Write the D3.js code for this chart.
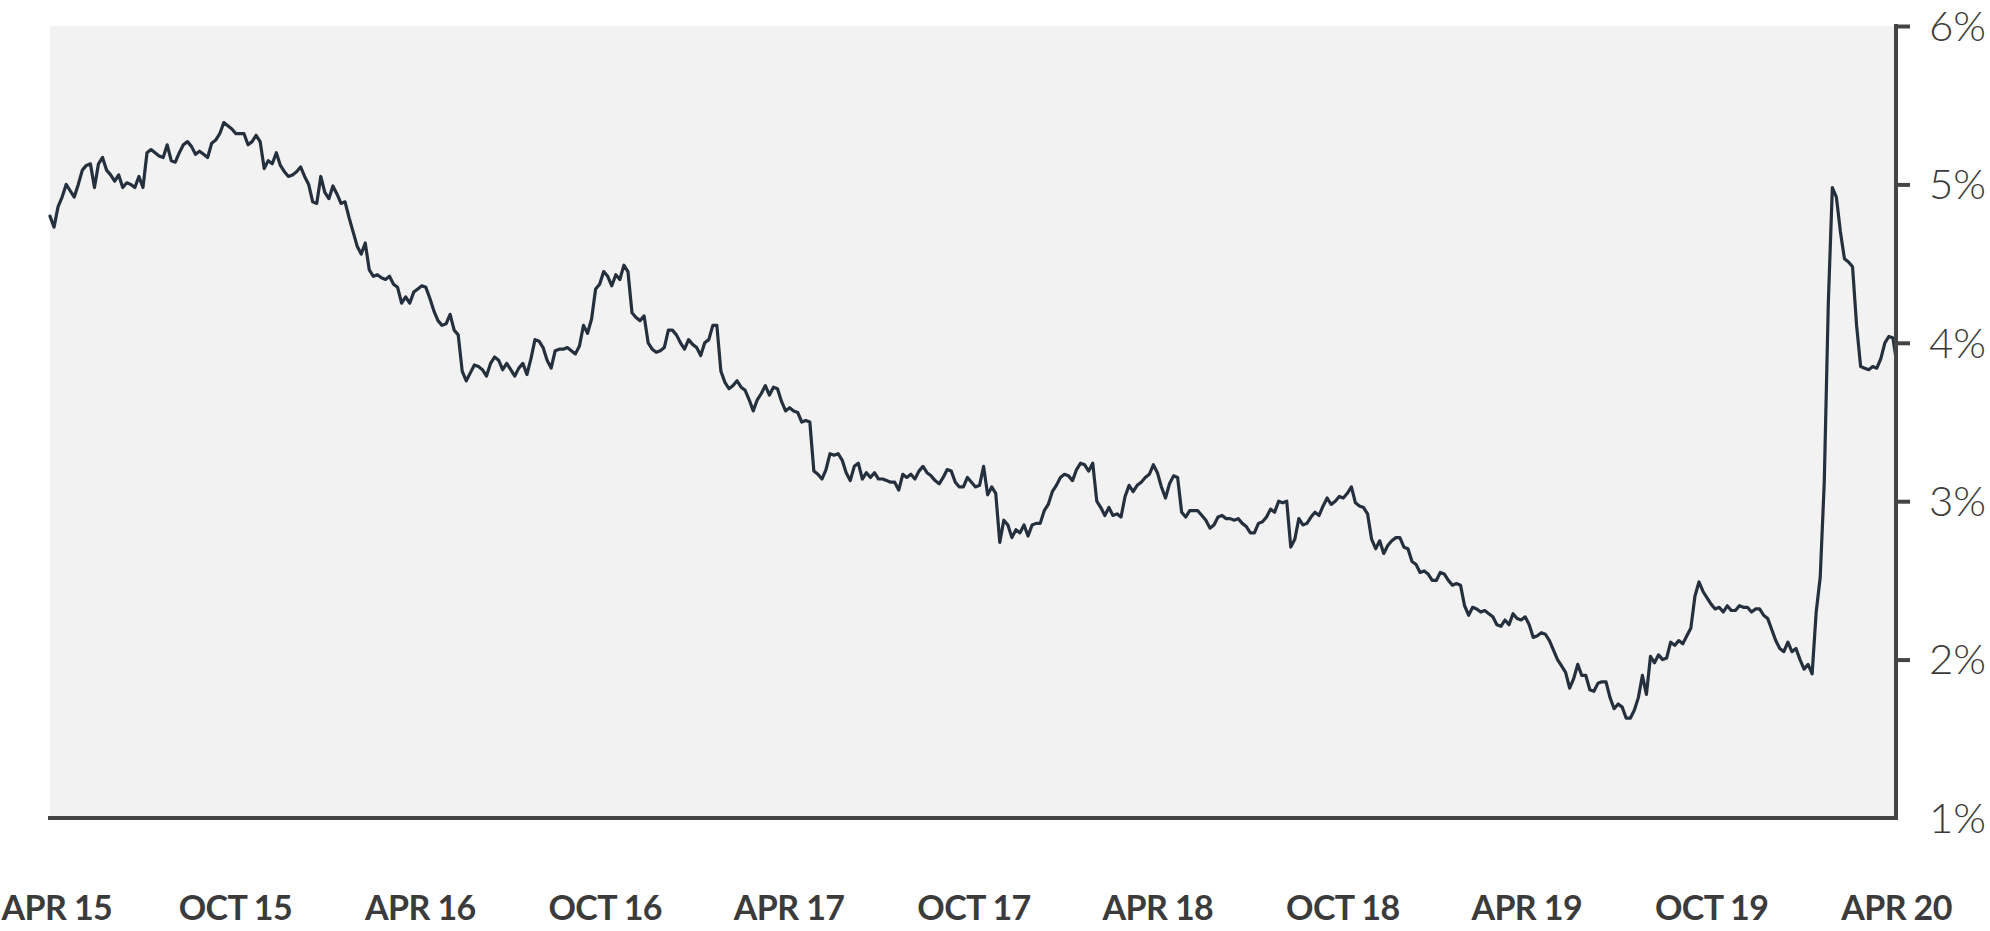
<!DOCTYPE html>
<html><head><meta charset="utf-8">
<script src="https://cdn.jsdelivr.net/npm/d3@7"></script>
<style>html,body{margin:0;padding:0;background:#fff;} svg{display:block;}</style>
</head><body>
<svg id="chart" width="1990" height="931"></svg>
<script>
// ---- data ----
const startDate = "2015-04-01";
const stepDays = 4;
const yieldValues = [
4.80,4.73,4.86,4.92,5.00,4.96,4.92,5.00,5.09,5.12,
5.13,4.98,5.13,5.17,5.09,5.06,5.02,5.06,4.98,5.01,
5.00,4.98,5.05,4.98,5.20,5.22,5.20,5.18,5.17,5.25,
5.15,5.14,5.20,5.25,5.27,5.24,5.19,5.21,5.19,5.17,
5.26,5.28,5.32,5.39,5.37,5.35,5.32,5.32,5.32,5.25,
5.27,5.31,5.27,5.10,5.15,5.13,5.20,5.12,5.08,5.05,
5.06,5.08,5.11,5.05,5.00,4.89,4.88,5.05,4.95,4.91,
4.99,4.94,4.88,4.89,4.79,4.70,4.61,4.56,4.63,4.46,
4.42,4.43,4.41,4.40,4.42,4.37,4.35,4.25,4.29,4.25,
4.32,4.34,4.36,4.35,4.28,4.20,4.14,4.11,4.12,4.18,
4.08,4.05,3.82,3.76,3.81,3.86,3.85,3.83,3.79,3.87,
3.91,3.89,3.83,3.87,3.83,3.79,3.84,3.87,3.80,3.90,
4.02,4.01,3.97,3.89,3.84,3.95,3.96,3.96,3.97,3.95,
3.93,3.98,4.11,4.06,4.15,4.34,4.37,4.45,4.42,4.36,
4.43,4.40,4.49,4.45,4.19,4.16,4.14,4.17,4.00,3.96,
3.94,3.95,3.97,4.08,4.08,4.05,4.00,3.96,4.02,3.99,
3.97,3.92,4.00,4.02,4.11,4.11,3.82,3.75,3.71,3.73,
3.76,3.72,3.70,3.64,3.57,3.64,3.68,3.73,3.67,3.72,
3.71,3.63,3.57,3.59,3.57,3.56,3.50,3.51,3.50,3.19,
3.17,3.14,3.20,3.30,3.29,3.30,3.26,3.18,3.13,3.22,
3.24,3.14,3.18,3.15,3.18,3.14,3.14,3.13,3.12,3.12,
3.07,3.17,3.15,3.17,3.14,3.19,3.22,3.18,3.16,3.13,
3.11,3.15,3.20,3.19,3.12,3.09,3.09,3.15,3.12,3.09,
3.10,3.22,3.04,3.09,3.05,2.74,2.88,2.85,2.77,2.82,
2.80,2.85,2.78,2.85,2.86,2.86,2.94,2.98,3.06,3.10,
3.15,3.17,3.16,3.13,3.20,3.24,3.23,3.19,3.24,3.00,
2.96,2.91,2.96,2.91,2.92,2.90,3.03,3.10,3.06,3.10,
3.12,3.15,3.17,3.23,3.18,3.09,3.02,3.11,3.16,3.15,
2.93,2.90,2.94,2.94,2.94,2.91,2.88,2.83,2.85,2.90,
2.91,2.89,2.89,2.88,2.89,2.86,2.84,2.80,2.80,2.86,
2.87,2.90,2.95,2.93,3.00,2.99,3.00,2.71,2.76,2.89,
2.85,2.86,2.90,2.93,2.91,2.97,3.02,2.98,3.00,3.03,
3.02,3.05,3.09,2.99,2.97,2.96,2.92,2.76,2.70,2.75,
2.67,2.72,2.75,2.77,2.77,2.71,2.70,2.62,2.60,2.55,
2.56,2.54,2.50,2.50,2.55,2.54,2.50,2.47,2.48,2.47,
2.34,2.28,2.33,2.32,2.30,2.31,2.29,2.27,2.22,2.21,
2.25,2.22,2.29,2.26,2.25,2.27,2.22,2.14,2.15,2.17,
2.16,2.12,2.06,2.00,1.96,1.92,1.82,1.88,1.97,1.90,
1.90,1.81,1.80,1.85,1.86,1.86,1.76,1.69,1.72,1.70,
1.63,1.63,1.68,1.76,1.90,1.78,2.02,1.98,2.03,2.00,
2.01,2.11,2.09,2.12,2.10,2.15,2.20,2.40,2.49,2.43,
2.39,2.35,2.32,2.33,2.30,2.34,2.31,2.31,2.34,2.33,
2.33,2.30,2.32,2.32,2.28,2.26,2.19,2.12,2.07,2.05,
2.11,2.05,2.07,2.00,1.94,1.97,1.91,2.30,2.52,3.12,
4.25,4.98,4.92,4.70,4.53,4.51,4.48,4.11,3.85,3.84,
3.83,3.85,3.84,3.90,4.00,4.04,4.03,3.86
];
const yTickValues = [1, 2, 3, 4, 5, 6];
const xTickDates = ["2015-04-01","2015-10-01","2016-04-01","2016-10-01","2017-04-01","2017-10-01","2018-04-01","2018-10-01","2019-04-01","2019-10-01","2020-04-01"];
const xTickLabels = ["APR 15","OCT 15","APR 16","OCT 16","APR 17","OCT 17","APR 18","OCT 18","APR 19","OCT 19","APR 20"];

// ---- drawing ----
(function () {
const parse = d3.utcParse("%Y-%m-%d");
const start = parse(startDate);
const series = yieldValues.map((v, i) => ({ date: d3.utcDay.offset(start, i * stepDays), value: v }));
const tickDates = xTickDates.map(parse);

const pLeft = 50, pRight = 1896, pTop = 26, pBottom = 818;
const x = d3.scaleUtc().domain([tickDates[0], tickDates[tickDates.length - 1]]).range([pLeft, pRight]);
const y = d3.scaleLinear().domain([1, 6]).range([pBottom, pTop]);

const svg = d3.select("#chart");
const textColor = "#3b3b3b";
const axisColor = "#444444";

svg.append("rect")
  .attr("x", pLeft).attr("y", pTop)
  .attr("width", pRight - pLeft).attr("height", pBottom - pTop)
  .attr("fill", "#f2f2f2");

svg.append("defs").append("clipPath").attr("id", "plotclip")
  .append("rect").attr("x", pLeft - 2).attr("y", 0).attr("width", pRight - pLeft + 2).attr("height", 931);

svg.append("path")
  .datum(series)
  .attr("clip-path", "url(#plotclip)")
  .attr("fill", "none")
  .attr("stroke", "#25303f")
  .attr("stroke-width", 3.2)
  .attr("stroke-linejoin", "round")
  .attr("stroke-linecap", "round")
  .attr("d", d3.line().x(d => x(d.date)).y(d => y(d.value)));

// bottom axis
const xAxis = svg.append("g")
  .attr("transform", `translate(0,${pBottom})`)
  .call(d3.axisBottom(x)
    .tickValues(tickDates)
    .tickSize(0)
    .tickSizeOuter(0)
    .tickPadding(78)
    .tickFormat((d, i) => xTickLabels[i]));
xAxis.select(".domain").attr("stroke", axisColor).attr("stroke-width", 4)
  .attr("d", `M${pLeft - 2},0H${pRight}`);
xAxis.selectAll("text")
  .attr("fill", textColor)
  .style("font-family", "Lato, 'Open Sans', sans-serif")
  .style("font-weight", 700)
  .style("font-size", "34px")
  .style("letter-spacing", "-0.6px");
// keep the first label inside the picture, as in the reference
xAxis.selectAll("text").filter((d, i) => i === 0)
  .attr("text-anchor", "start")
  .attr("x", 1 - pLeft);

// right axis
const yAxis = svg.append("g")
  .attr("transform", `translate(${pRight},0)`)
  .call(d3.axisRight(y)
    .tickValues(yTickValues)
    .tickSize(14)
    .tickSizeOuter(0)
    .tickFormat(d => d + "%"));
yAxis.select(".domain").attr("stroke", axisColor).attr("stroke-width", 4)
  .attr("d", `M0,${pTop - 2}V${pBottom + 2}`);
yAxis.selectAll(".tick line").attr("stroke", axisColor).attr("stroke-width", 4)
  .attr("x1", 0)
  .style("display", d => d === 1 ? "none" : null);
yAxis.selectAll("text")
  .attr("fill", textColor)
  .attr("text-anchor", "end")
  .attr("x", 1986 - pRight)
  .attr("dy", "0.34em")
  .style("font-family", "Lato, 'Open Sans', sans-serif")
  .style("font-weight", 300)
  .style("font-size", "42px");
})();
</script>
</body></html>
